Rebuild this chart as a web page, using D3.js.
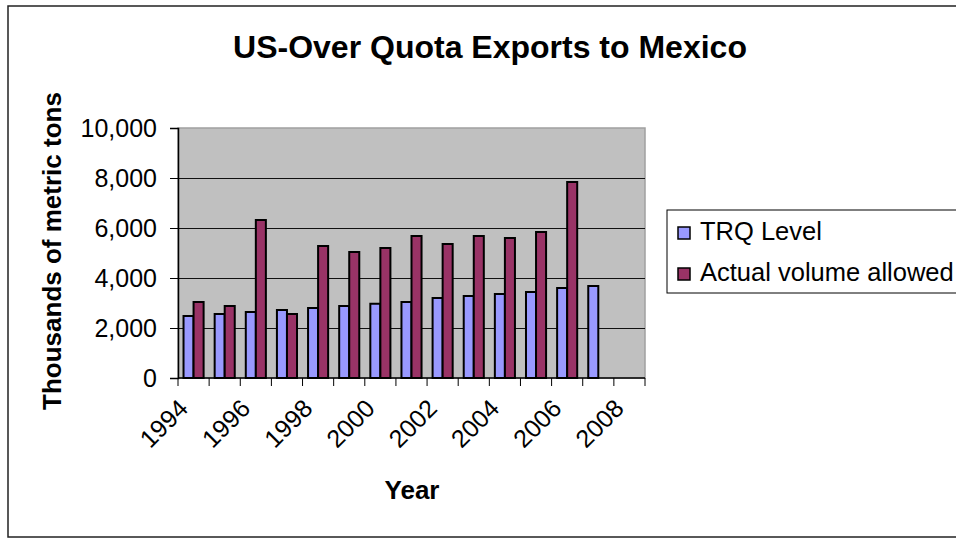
<!DOCTYPE html>
<html>
<head>
<meta charset="utf-8">
<script src="https://cdn.jsdelivr.net/npm/d3@7"></script>
<style>
  html, body { margin: 0; padding: 0; background: #fff; }
  svg { display: block; font-family: "Liberation Sans", Arial, sans-serif; }
</style>
</head>
<body>
<svg id="chart" width="956" height="539"></svg>
<script>
// Over-quota exports, thousands of metric tons
const years = [1994, 1995, 1996, 1997, 1998, 1999, 2000, 2001, 2002, 2003, 2004, 2005, 2006, 2007, 2008];
const trqLevel = [2480, 2560, 2640, 2720, 2800, 2880, 2970, 3040, 3200, 3280, 3360, 3440, 3600, 3680, null];
const actualVolume = [3040, 2880, 6320, 2560, 5280, 5040, 5200, 5680, 5360, 5680, 5600, 5840, 7840, null, null];
const seriesNames = ["TRQ Level", "Actual volume allowed"];
const seriesColors = ["#9999FF", "#993366"];
const yTicks = [0, 2000, 4000, 6000, 8000, 10000];
const xTickLabels = [1994, 1996, 1998, 2000, 2002, 2004, 2006, 2008];

const svg = d3.select("#chart");
const plot = { left: 178, right: 645, top: 128, bottom: 378 };

// outer chart frame (runs off the right edge)
svg.append("rect")
  .attr("x", 8).attr("y", 6)
  .attr("width", 960).attr("height", 531)
  .attr("fill", "#fff").attr("stroke", "#222").attr("stroke-width", 1.5);

const x = d3.scaleBand().domain(years).range([plot.left, plot.right]).padding(0);
const xs = d3.scaleBand().domain(seriesNames).range([0, x.bandwidth()])
  .paddingInner(0).paddingOuter(0.55);
const y = d3.scaleLinear().domain([0, 10000]).range([plot.bottom, plot.top]);

// plot background
svg.append("rect")
  .attr("x", plot.left).attr("y", plot.top)
  .attr("width", plot.right - plot.left).attr("height", plot.bottom - plot.top)
  .attr("fill", "#C0C0C0").attr("stroke", "#a0a0a0").attr("stroke-width", 1.5);

// horizontal gridlines
svg.append("g").selectAll("line")
  .data(yTicks.filter(t => t > 0 && t < 10000))
  .join("line")
  .attr("x1", plot.left).attr("x2", plot.right)
  .attr("y1", d => Math.round(y(d)) + 0.5).attr("y2", d => Math.round(y(d)) + 0.5)
  .attr("stroke", "#111").attr("stroke-width", 1);

// bars
const rows = years.map((yr, i) => ({ year: yr, values: [trqLevel[i], actualVolume[i]] }));
const groups = svg.append("g").selectAll("g")
  .data(rows).join("g")
  .attr("transform", d => `translate(${x(d.year)},0)`);
groups.selectAll("rect")
  .data(d => d.values.map((v, k) => ({ name: seriesNames[k], value: v, k })).filter(e => e.value != null))
  .join("rect")
  .attr("x", d => xs(d.name))
  .attr("width", xs.bandwidth())
  .attr("y", d => y(d.value))
  .attr("height", d => y(0) - y(d.value))
  .attr("fill", d => seriesColors[d.k])
  .attr("stroke", "#000").attr("stroke-width", 2);

// y axis
const yAxis = svg.append("g")
  .attr("transform", `translate(${plot.left},0)`)
  .call(d3.axisLeft(y).tickValues(yTicks).tickFormat(d3.format(",")).tickSize(8).tickPadding(13));
yAxis.select(".domain").attr("stroke", "#000").attr("stroke-width", 1.5);
yAxis.selectAll(".tick line").attr("stroke", "#000");
yAxis.selectAll("text").attr("font-size", 25).attr("fill", "#000")
  .attr("font-family", "'Liberation Sans', Arial, sans-serif");

// x axis: tick marks at category boundaries
const xAxisG = svg.append("g");
xAxisG.append("line")
  .attr("x1", plot.left).attr("x2", plot.right)
  .attr("y1", plot.bottom).attr("y2", plot.bottom)
  .attr("stroke", "#000").attr("stroke-width", 1.5);
const boundaries = years.map(yr => x(yr)).concat([x(years[years.length - 1]) + x.bandwidth()]);
xAxisG.selectAll("line.tick")
  .data(boundaries).join("line").attr("class", "tick")
  .attr("x1", d => d).attr("x2", d => d)
  .attr("y1", plot.bottom).attr("y2", plot.bottom + 8)
  .attr("stroke", "#000").attr("stroke-width", 1);
xAxisG.selectAll("text")
  .data(xTickLabels).join("text")
  .attr("transform", d => `translate(${x(d) + x.bandwidth() / 2 - 4},${plot.bottom + 32}) rotate(-45)`)
  .attr("text-anchor", "end")
  .attr("font-size", 25).attr("fill", "#000")
  .text(d => d);

// titles
svg.append("text")
  .attr("x", 490).attr("y", 58)
  .attr("text-anchor", "middle")
  .attr("font-size", 32).attr("font-weight", "bold")
  .text("US-Over Quota Exports to Mexico");

svg.append("text")
  .attr("transform", "translate(61,251) rotate(-90)")
  .attr("text-anchor", "middle")
  .attr("font-size", 26).attr("font-weight", "bold")
  .text("Thousands of metric tons");

svg.append("text")
  .attr("x", 412).attr("y", 499)
  .attr("text-anchor", "middle")
  .attr("font-size", 26).attr("font-weight", "bold")
  .text("Year");

// legend
const legend = svg.append("g");
legend.append("rect")
  .attr("x", 667).attr("y", 210).attr("width", 320).attr("height", 83)
  .attr("fill", "#fff").attr("stroke", "#000").attr("stroke-width", 1);
const items = legend.selectAll("g.item")
  .data(seriesNames).join("g").attr("class", "item")
  .attr("transform", (d, i) => `translate(0,${i * 41})`);
items.append("rect")
  .attr("x", 678).attr("y", 227).attr("width", 12).attr("height", 12)
  .attr("fill", (d, i) => seriesColors[i]).attr("stroke", "#000").attr("stroke-width", 1.5);
items.append("text")
  .attr("x", 700).attr("y", 240)
  .attr("font-size", 25.5).attr("fill", "#000")
  .text(d => d);
</script>
</body>
</html>
